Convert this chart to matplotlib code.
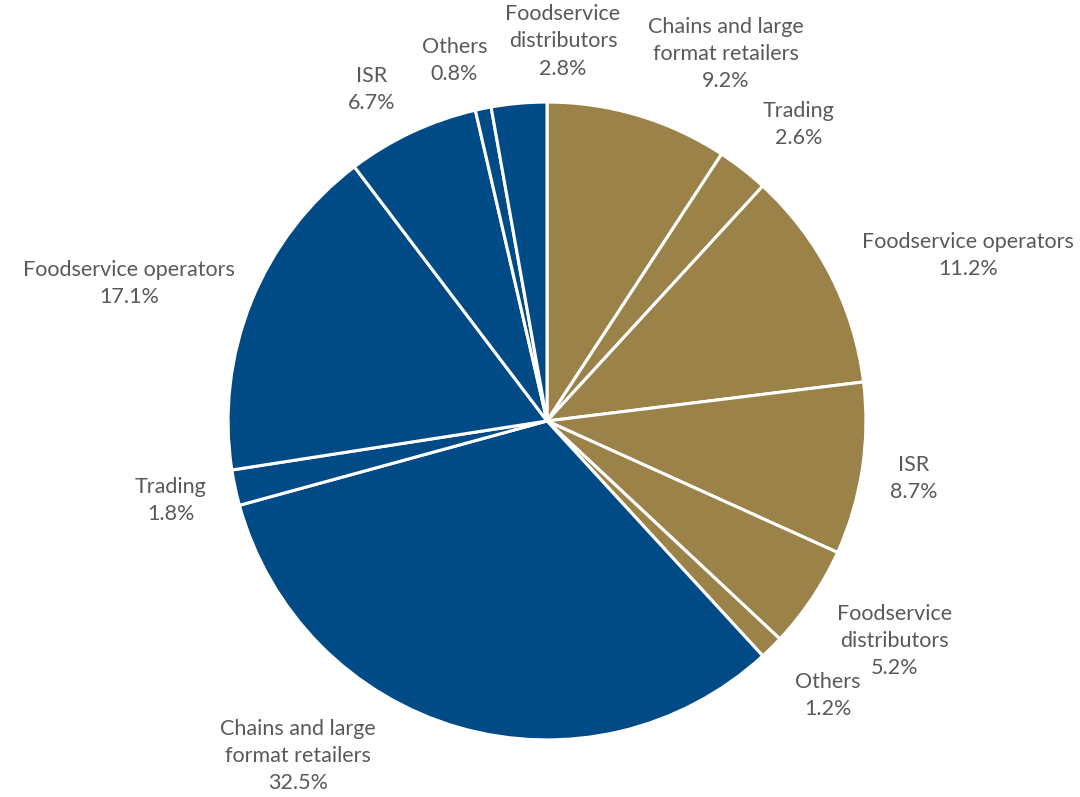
import matplotlib
matplotlib.use("Agg")
import matplotlib.pyplot as plt

# slice order: clockwise from 12 o'clock
labels = [
    "Chains and large\nformat retailers", "Trading", "Foodservice operators",
    "ISR", "Foodservice\ndistributors", "Others",
    "Chains and large\nformat retailers", "Trading", "Foodservice operators",
    "ISR", "Others", "Foodservice\ndistributors",
]
shares = [9.2, 2.6, 11.2, 8.7, 5.2, 1.2, 32.5, 1.8, 17.1, 6.7, 0.8, 2.8]
groups = ["gold"] * 6 + ["blue"] * 6

GOLD = "#9A8249"
BLUE = "#004A86"
TEXT = "#595959"

# label centres, in pie-radius units (hand placed like the original)
label_pos = [
    (0.56, 1.15), (0.79, 0.93), (1.32, 0.52), (1.15, -0.18),
    (1.09, -0.69), (0.88, -0.86), (-0.78, -1.05), (-1.18, -0.25),
    (-1.31, 0.43), (-0.55, 1.04), (-0.29, 1.13), (0.05, 1.19),
]

fig = plt.figure(figsize=(10.8, 7.97), dpi=100)
ax = fig.add_axes([0, 0, 1, 1])
colors = [GOLD if g == "gold" else BLUE for g in groups]
ax.pie(shares, colors=colors, startangle=90, counterclock=False, radius=1.0,
       wedgeprops=dict(edgecolor="white", linewidth=2.2))
for lab, val, (x, y) in zip(labels, shares, label_pos):
    ax.text(x, y, f"{lab}\n{val:.1f}%", ha="center", va="center",
            fontsize=15.5, color=TEXT, family="Lato", linespacing=1.45)
ax.set_xlim(-1.715, 1.671)
ax.set_ylim(-1.179, 1.320)
ax.set_aspect("equal")
ax.axis("off")
fig.savefig("out.png", dpi=100)
